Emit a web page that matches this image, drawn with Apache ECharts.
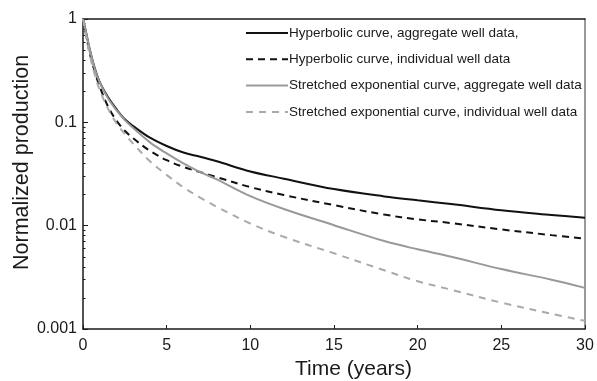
<!DOCTYPE html>
<html>
<head>
<meta charset="utf-8">
<script src="https://cdn.jsdelivr.net/npm/echarts@6/dist/echarts.min.js"></script>
<style>
  html, body { margin: 0; padding: 0; background: #fff; }
  #chart { width: 597px; height: 381px; }
</style>
</head>
<body>
<div id="chart"></div>
<script>
// Time axis samples (years)
const years = [0, 0.2, 0.4, 0.7, 1, 1.5, 2, 2.5, 3, 4, 5, 6, 7, 8, 10, 12, 15, 18, 20, 22, 25, 28, 30];

// Normalized production for each decline model
const hypAggregate = [1, 0.72, 0.51, 0.335, 0.245, 0.175, 0.134, 0.107, 0.092, 0.071, 0.059, 0.051, 0.0465, 0.042, 0.0335, 0.0285, 0.0226, 0.0192, 0.0176, 0.0162, 0.0141, 0.0127, 0.0119];
const hypIndividual = [1, 0.68, 0.47, 0.31, 0.222, 0.142, 0.104, 0.083, 0.070, 0.053, 0.043, 0.037, 0.033, 0.0295, 0.0236, 0.0198, 0.0158, 0.0128, 0.0115, 0.0106, 0.0092, 0.0081, 0.0075];
const strAggregate = [1, 0.72, 0.51, 0.33, 0.243, 0.170, 0.131, 0.105, 0.088, 0.064, 0.050, 0.040, 0.033, 0.028, 0.0193, 0.0145, 0.0101, 0.0071, 0.0059, 0.0050, 0.0038, 0.0030, 0.0025];
const strIndividual = [1, 0.66, 0.45, 0.29, 0.205, 0.135, 0.098, 0.077, 0.062, 0.042, 0.031, 0.0235, 0.0187, 0.0152, 0.0105, 0.0078, 0.0054, 0.0037, 0.0029, 0.0024, 0.0018, 0.0014, 0.0012];

const seriesNames = [
  'Hyperbolic curve, aggregate well data,',
  'Hyperbolic curve, individual well data',
  'Stretched exponential curve, aggregate well data',
  'Stretched exponential curve, individual well data'
];

const xTicks = [0, 5, 10, 15, 20, 25, 30];
const yDecades = [0.001, 0.01, 0.1, 1];
const yMinor = [];
[0.001, 0.01, 0.1].forEach(d => { for (let k = 2; k <= 9; k++) yMinor.push(+(d * k).toPrecision(3)); });

const pairs = vals => years.map((t, i) => [t, vals[i]]);

const FONT = 'Liberation Sans, Arial, sans-serif';
const INK = '#1a1a1a';

const chart = echarts.init(document.getElementById('chart'));
chart.setOption({
  animation: false,
  backgroundColor: '#fff',
  grid: { left: 83, top: 19, right: 12, bottom: 52, containLabel: false },
  legend: {
    orient: 'vertical',
    left: 245, top: 26, padding: 0,
    itemWidth: 42, itemHeight: 14, itemGap: 12.3,
    itemStyle: { opacity: 0 },
    textStyle: { fontFamily: FONT, fontSize: 13.5, color: INK, padding: [0, 0, 0, -4] },
    data: seriesNames
  },
  graphic: [
    { type: 'text', left: 295, top: 359,
      style: { text: 'Time (years)', font: '21px ' + FONT, fill: INK } },
    { type: 'text', x: 11, y: 270, rotation: Math.PI / 2,
      style: { text: 'Normalized production', font: '21.5px ' + FONT, fill: INK, textBaseline: 'top' } }
  ],
  xAxis: [{
    type: 'value', min: 0, max: 30, interval: 5,
    axisLine: { lineStyle: { color: INK, width: 1.5 } },
    axisTick: { inside: true, length: 4, lineStyle: { color: INK }, customValues: xTicks },
    axisLabel: { fontFamily: FONT, fontSize: 16, color: INK, margin: 9, customValues: xTicks },
    splitLine: { show: false }
  }, {
    type: 'value', min: 0, max: 30, position: 'top',
    axisLine: { lineStyle: { color: INK, width: 1.5 } },
    axisTick: { show: false }, axisLabel: { show: false }, splitLine: { show: false }
  }],
  yAxis: [{
    type: 'log', logBase: 10, min: 0.001, max: 1,
    axisLine: { show: true, lineStyle: { color: INK, width: 1.5 } },
    axisTick: { inside: true, length: 5, lineStyle: { color: INK }, customValues: yDecades },
    axisLabel: {
      fontFamily: FONT, fontSize: 16, color: INK, margin: 6,
      customValues: yDecades,
      formatter: v => String(+v.toPrecision(1))
    },
    splitLine: { show: false }
  }, {
    type: 'log', logBase: 10, min: 0.001, max: 1, position: 'left',
    axisLine: { show: false },
    axisTick: { inside: true, length: 2.5, lineStyle: { color: INK }, customValues: yMinor },
    axisLabel: { show: false }, splitLine: { show: false }
  }, {
    type: 'log', logBase: 10, min: 0.001, max: 1, position: 'right',
    axisLine: { show: true, lineStyle: { color: '#777', width: 1.5 } },
    axisTick: { show: false }, axisLabel: { show: false }, splitLine: { show: false }
  }],
  series: [
    { name: seriesNames[0], type: 'line', data: pairs(hypAggregate), symbol: 'none', smooth: 0.35,
      lineStyle: { color: '#111', width: 2 }, itemStyle: { color: '#111' } },
    { name: seriesNames[1], type: 'line', data: pairs(hypIndividual), symbol: 'none', smooth: 0.35,
      lineStyle: { color: '#111', width: 2, type: [7, 5] }, itemStyle: { color: '#111' } },
    { name: seriesNames[2], type: 'line', data: pairs(strAggregate), symbol: 'none', smooth: 0.35,
      lineStyle: { color: '#999', width: 2 }, itemStyle: { color: '#999' } },
    { name: seriesNames[3], type: 'line', data: pairs(strIndividual), symbol: 'none', smooth: 0.35,
      lineStyle: { color: '#aaa', width: 2, type: [7, 6] }, itemStyle: { color: '#aaa' } }
  ]
});
</script>
</body>
</html>
